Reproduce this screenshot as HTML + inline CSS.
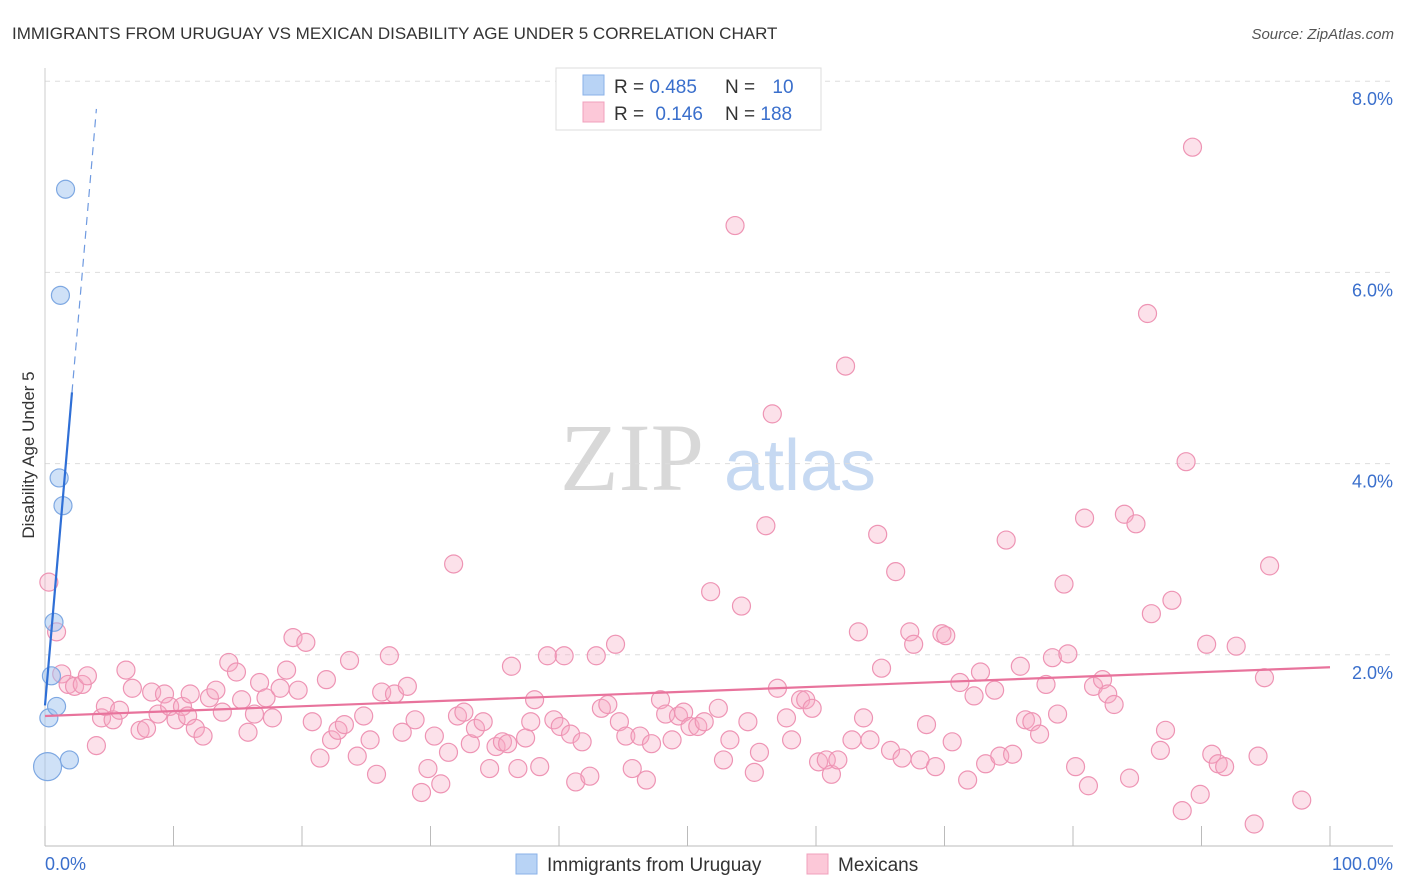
<!DOCTYPE html>
<html><head><meta charset="utf-8">
<style>
body{margin:0;background:#fff;font-family:"Liberation Sans",sans-serif;}
svg{display:block}
</style></head>
<body>
<svg id="chart" width="1406" height="892" viewBox="0 0 1406 892">
<text x="12" y="39" font-size="17" fill="#333">IMMIGRANTS FROM URUGUAY VS MEXICAN DISABILITY AGE UNDER 5 CORRELATION CHART</text>
<text x="1394" y="39" font-size="15" fill="#555" font-style="italic" text-anchor="end">Source: ZipAtlas.com</text>
<text x="34" y="455" font-size="17" fill="#333" text-anchor="middle" transform="rotate(-90 34 455)">Disability Age Under 5</text>
<g>
<text x="632" y="490" font-size="96" fill="#d8d8d8" font-family="Liberation Serif,serif" text-anchor="middle">ZIP</text>
<text x="800" y="490" font-size="72" fill="#c6d9f2" text-anchor="middle">atlas</text>
</g>
<g id="grid"></g>
<g id="axes"></g>
<g id="pink"></g>
<g id="blue"></g>
<g id="trend"></g>
<g>
<rect x="556" y="68" width="265" height="62" fill="#fff" stroke="#ddd"/>
<rect x="583" y="75" width="21" height="20" fill="#b8d3f5" stroke="#8ab2e8"/>
<rect x="583" y="102" width="21" height="20" fill="#fcc8d8" stroke="#f0a0bc"/>
<text x="614" y="93" font-size="19" fill="#333">R = <tspan fill="#3a6fcc">0.485</tspan></text>
<text x="725" y="93" font-size="19" fill="#333">N = <tspan fill="#3a6fcc" dx="12">10</tspan></text>
<text x="614" y="120" font-size="19" fill="#333">R = <tspan fill="#3a6fcc" dx="6">0.146</tspan></text>
<text x="725" y="120" font-size="19" fill="#333">N = <tspan fill="#3a6fcc">188</tspan></text>
</g>
<g>
<rect x="516" y="854" width="21" height="20" fill="#b8d3f5" stroke="#8ab2e8"/>
<text x="547" y="871" font-size="19" fill="#333">Immigrants from Uruguay</text>
<rect x="807" y="854" width="21" height="20" fill="#fcc8d8" stroke="#f0a0bc"/>
<text x="838" y="871" font-size="19" fill="#333">Mexicans</text>
</g>
</svg>
<script>
const yTicks=[2,4,6,8];
const yTickLabels=["2.0%","4.0%","6.0%","8.0%"];
const xEndLabels=["0.0%","100.0%"];
const pinkX=[0.3,0.9,1.3,1.8,2.3,2.9,3.3,4.0,4.4,4.7,5.3,5.8,6.3,6.8,7.4,7.9,8.3,8.8,9.3,9.7,10.2,10.7,11.1,11.3,11.7,12.3,12.8,13.3,13.8,14.3,14.9,15.3,15.8,16.3,16.7,17.2,17.7,18.3,18.8,19.3,19.7,20.3,20.8,21.4,21.9,22.3,22.8,23.3,23.7,24.3,24.8,25.3,25.8,26.2,26.8,27.2,27.8,28.2,28.8,29.3,29.8,30.3,30.8,31.4,31.8,32.1,32.6,33.1,33.5,34.1,34.6,35.1,35.6,36.0,36.3,36.8,37.4,37.8,38.1,38.5,39.1,39.6,40.1,40.4,40.9,41.3,41.8,42.4,42.9,43.3,43.8,44.4,44.7,45.2,45.7,46.3,46.8,47.2,47.9,48.3,48.8,49.3,49.7,50.2,50.8,51.3,51.8,52.4,52.8,53.3,53.7,54.2,54.7,55.2,55.6,56.1,56.6,57.0,57.7,58.1,58.8,59.2,59.7,60.2,60.8,61.2,61.7,62.3,62.8,63.3,63.7,64.2,64.8,65.1,65.8,66.2,66.7,67.3,67.6,68.1,68.6,69.3,69.8,70.1,70.6,71.2,71.8,72.3,72.8,73.2,73.9,74.3,74.8,75.3,75.9,76.3,76.8,77.4,77.9,78.4,78.8,79.3,79.6,80.2,80.9,81.2,81.6,82.3,82.7,83.2,84.0,84.4,84.9,85.8,86.1,86.8,87.2,87.7,88.5,88.8,89.3,89.9,90.4,90.8,91.3,91.8,92.7,94.1,94.4,94.9,95.3,97.8];
const pinkY=[2.92,2.40,1.96,1.85,1.83,1.85,1.94,1.21,1.50,1.62,1.48,1.58,2.00,1.81,1.37,1.39,1.77,1.54,1.75,1.62,1.48,1.62,1.52,1.75,1.39,1.31,1.71,1.79,1.56,2.08,1.98,1.69,1.35,1.54,1.87,1.71,1.50,1.81,2.00,2.34,1.79,2.29,1.46,1.08,1.90,1.27,1.37,1.43,2.10,1.10,1.52,1.27,0.91,1.77,2.15,1.75,1.35,1.83,1.48,0.72,0.97,1.31,0.81,1.14,3.11,1.52,1.56,1.23,1.39,1.46,0.97,1.20,1.25,1.23,2.04,0.97,1.29,1.46,1.69,0.99,2.15,1.48,1.41,2.15,1.33,0.83,1.25,0.89,2.15,1.60,1.64,2.27,1.46,1.31,0.97,1.31,0.85,1.23,1.69,1.54,1.27,1.52,1.56,1.41,1.41,1.46,2.82,1.60,1.06,1.27,6.65,2.67,1.46,0.93,1.14,3.51,4.68,1.81,1.50,1.27,1.69,1.69,1.60,1.04,1.06,0.91,1.06,5.18,1.27,2.40,1.50,1.27,3.42,2.02,1.16,3.03,1.08,2.40,2.27,1.06,1.43,0.99,2.38,2.36,1.25,1.87,0.85,1.73,1.98,1.02,1.79,1.10,3.36,1.12,2.04,1.48,1.46,1.33,1.85,2.13,1.54,2.90,2.17,0.99,3.59,0.79,1.83,1.90,1.75,1.64,3.63,0.87,3.53,5.73,2.59,1.16,1.37,2.73,0.53,4.18,7.47,0.70,2.27,1.12,1.02,0.99,2.25,0.39,1.10,1.92,3.09,0.64];
const blueX=[0.2,0.3,0.5,0.7,0.9,1.1,1.2,1.4,1.6,1.9];
const blueY=[0.99,1.50,1.94,2.50,1.62,4.01,5.92,3.72,7.03,1.06];
const blueSize=[14,9,9,9,9,9,9,9,9,9];
const pinkTrend=[1.52,2.03]; // y at x=0 and x=100
const blueTrend=[1.63,1.56]; // intercept, slope (% per %)

const NS="http://www.w3.org/2000/svg";
const X0=45,X1=1330,YB=846,PX=95.6,OFF=0.16;
function xs(v){return X0+(X1-X0)*v/100;}
function ys(v){return YB-(v-OFF)*PX;}
function gridY(v){return YB-v*PX;}
function mk(tag,attrs,parent){const e=document.createElementNS(NS,tag);for(const k in attrs)e.setAttribute(k,attrs[k]);document.getElementById(parent).appendChild(e);return e;}

yTicks.forEach((t,i)=>{
 const g=mk('line',{x1:45,x2:1393,y1:gridY(t),y2:gridY(t),stroke:'#ddd','stroke-dasharray':'5,5'},'grid');
 
 
 const l=mk('text',{x:1393,y:gridY(t)+24,'font-size':18,fill:'#3a6fcc','text-anchor':'end'},'grid');
 l.textContent=yTickLabels[i];
 
 
});
let a=mk('line',{x1:45,x2:45,y1:68,y2:846,stroke:'#ccc'},'axes');


a=mk('line',{x1:45,x2:1393,y1:846,y2:846,stroke:'#bbb'},'axes');


for(let k=0;k<=10;k++){
 const t=mk('line',{x1:xs(k*10),x2:xs(k*10),y1:826,y2:846,stroke:'#bbb'},'axes');
 
 
}
[[0,'start',45],[100,'end',1393]].forEach((d,i)=>{
 const t=mk('text',{x:d[2],y:870,'font-size':18,fill:'#3a6fcc','text-anchor':d[1]},'axes');
 t.textContent=xEndLabels[i];
 
 
});
pinkX.forEach((x,i)=>{
 const c=mk('circle',{cx:xs(x),cy:ys(pinkY[i]),r:9,fill:'rgba(246,170,196,0.35)',stroke:'#ee94b4','stroke-width':1.2},'pink');
 
 
});
blueX.forEach((x,i)=>{
 const c=mk('circle',{cx:xs(x),cy:ys(blueY[i]),r:blueSize[i],fill:'rgba(160,195,240,0.5)',stroke:'#7ea8e2','stroke-width':1.2},'blue');
 
 
});
let tl=mk('line',{x1:xs(0),y1:ys(pinkTrend[0]),x2:xs(100),y2:ys(pinkTrend[1]),stroke:'#e8739c','stroke-width':2.2},'trend');


const bEnd=2.1, bDash=4.0;
tl=mk('line',{x1:xs(0),y1:ys(blueTrend[0]),x2:xs(bEnd),y2:ys(blueTrend[0]+blueTrend[1]*bEnd),stroke:'#2f6fd6','stroke-width':2.2},'trend');


tl=mk('line',{x1:xs(bEnd),y1:ys(blueTrend[0]+blueTrend[1]*bEnd),x2:xs(bDash),y2:ys(blueTrend[0]+blueTrend[1]*bDash),stroke:'#6f9ae0','stroke-width':1.2,'stroke-dasharray':'8,6'},'trend');


</script>
</body></html>
